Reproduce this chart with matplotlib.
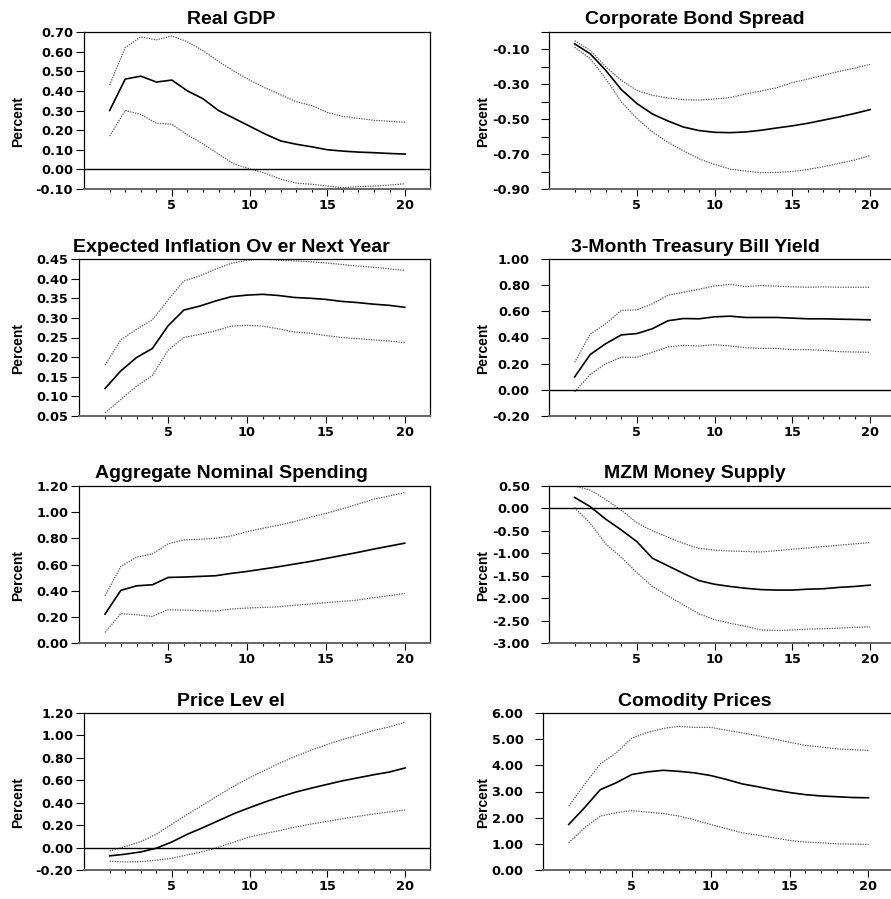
import matplotlib.pyplot as plt

plt.rcParams['font.family'] = 'DejaVu Sans'
plt.rcParams['font.weight'] = 'bold'
plt.rcParams['font.size'] = 9.3

# impulse responses, 20 quarters: lower band, point estimate, upper band
horizon = [1, 2, 3, 4, 5, 6, 7, 8, 9, 10, 11, 12, 13, 14, 15, 16, 17, 18, 19, 20]

gdp_lo = [0.17, 0.30, 0.28, 0.235, 0.23, 0.175, 0.13, 0.078, 0.027, 0.003,
          -0.02, -0.05, -0.07, -0.076, -0.085, -0.093, -0.088, -0.085, -0.08, -0.073]
gdp_mid = [0.30, 0.46, 0.475, 0.445, 0.455, 0.40, 0.36, 0.30, 0.26, 0.22,
           0.18, 0.145, 0.128, 0.115, 0.10, 0.093, 0.088, 0.085, 0.081, 0.078]
gdp_hi = [0.43, 0.62, 0.675, 0.66, 0.68, 0.65, 0.605, 0.55, 0.50, 0.455,
          0.415, 0.38, 0.345, 0.325, 0.29, 0.27, 0.26, 0.25, 0.245, 0.24]

bond_lo = [-0.087, -0.153, -0.268, -0.40, -0.496, -0.572, -0.633, -0.681, -0.727, -0.759,
           -0.786, -0.797, -0.807, -0.805, -0.80, -0.788, -0.772, -0.753, -0.734, -0.708]
bond_mid = [-0.068, -0.125, -0.22, -0.33, -0.41, -0.47, -0.51, -0.545, -0.565, -0.575,
            -0.577, -0.573, -0.563, -0.55, -0.538, -0.523, -0.505, -0.487, -0.467, -0.445]
bond_hi = [-0.05, -0.105, -0.20, -0.277, -0.335, -0.363, -0.378, -0.388, -0.39, -0.384,
           -0.376, -0.355, -0.338, -0.32, -0.29, -0.27, -0.248, -0.226, -0.207, -0.186]

infl_lo = [0.058, 0.092, 0.126, 0.153, 0.218, 0.25, 0.258, 0.267, 0.279, 0.281,
           0.279, 0.272, 0.264, 0.261, 0.255, 0.25, 0.247, 0.244, 0.241, 0.237]
infl_mid = [0.12, 0.165, 0.199, 0.222, 0.28, 0.32, 0.33, 0.343, 0.354, 0.358,
            0.36, 0.357, 0.352, 0.35, 0.347, 0.342, 0.339, 0.335, 0.332, 0.327]
infl_hi = [0.18, 0.244, 0.271, 0.295, 0.346, 0.394, 0.407, 0.424, 0.439, 0.447,
           0.45, 0.447, 0.445, 0.443, 0.44, 0.436, 0.432, 0.429, 0.425, 0.421]

tbill_lo = [-0.015, 0.117, 0.20, 0.249, 0.249, 0.287, 0.327, 0.34, 0.335, 0.345,
            0.335, 0.322, 0.317, 0.317, 0.307, 0.307, 0.302, 0.292, 0.289, 0.287]
tbill_mid = [0.099, 0.27, 0.353, 0.42, 0.43, 0.467, 0.528, 0.545, 0.543, 0.558,
             0.563, 0.553, 0.553, 0.553, 0.548, 0.543, 0.543, 0.54, 0.538, 0.535]
tbill_hi = [0.21, 0.426, 0.505, 0.607, 0.612, 0.657, 0.723, 0.746, 0.769, 0.794,
            0.807, 0.789, 0.797, 0.792, 0.787, 0.784, 0.787, 0.784, 0.784, 0.784]

spend_lo = [0.081, 0.224, 0.216, 0.203, 0.254, 0.252, 0.247, 0.244, 0.26, 0.267,
            0.272, 0.277, 0.288, 0.298, 0.308, 0.318, 0.328, 0.346, 0.361, 0.379]
spend_mid = [0.221, 0.402, 0.437, 0.445, 0.501, 0.504, 0.509, 0.514, 0.532, 0.547,
             0.565, 0.583, 0.603, 0.623, 0.646, 0.669, 0.692, 0.717, 0.74, 0.763]
spend_hi = [0.361, 0.585, 0.656, 0.681, 0.758, 0.788, 0.793, 0.80, 0.818, 0.851,
            0.877, 0.90, 0.928, 0.961, 0.991, 1.024, 1.06, 1.098, 1.123, 1.149]

mzm_lo = [0.015, -0.33, -0.79, -1.09, -1.43, -1.74, -1.95, -2.15, -2.35, -2.48,
          -2.56, -2.63, -2.71, -2.72, -2.71, -2.69, -2.68, -2.67, -2.65, -2.64]
mzm_mid = [0.245, 0.04, -0.24, -0.48, -0.74, -1.11, -1.28, -1.45, -1.61, -1.69,
           -1.74, -1.78, -1.81, -1.82, -1.82, -1.80, -1.79, -1.76, -1.74, -1.71]
mzm_hi = [0.50, 0.41, 0.20, -0.04, -0.32, -0.50, -0.64, -0.78, -0.89, -0.93,
          -0.95, -0.96, -0.97, -0.94, -0.91, -0.88, -0.85, -0.82, -0.79, -0.76]

price_lo = [-0.122, -0.128, -0.125, -0.113, -0.095, -0.065, -0.036, 0.003, 0.05, 0.095,
            0.125, 0.154, 0.184, 0.211, 0.234, 0.258, 0.279, 0.30, 0.318, 0.335]
price_mid = [-0.074, -0.059, -0.039, -0.006, 0.05, 0.119, 0.178, 0.24, 0.303, 0.356,
             0.407, 0.454, 0.496, 0.531, 0.564, 0.596, 0.623, 0.65, 0.674, 0.71]
price_hi = [-0.03, 0.009, 0.053, 0.119, 0.208, 0.297, 0.38, 0.466, 0.549, 0.623,
            0.691, 0.757, 0.816, 0.872, 0.92, 0.964, 1.003, 1.045, 1.077, 1.117]

comm_lo = [1.04, 1.61, 2.06, 2.19, 2.27, 2.21, 2.16, 2.06, 1.91, 1.74,
           1.58, 1.42, 1.33, 1.23, 1.13, 1.07, 1.04, 1.00, 0.99, 0.98]
comm_mid = [1.74, 2.38, 3.07, 3.33, 3.65, 3.75, 3.81, 3.77, 3.71, 3.61,
            3.46, 3.29, 3.18, 3.06, 2.96, 2.88, 2.83, 2.80, 2.77, 2.76]
comm_hi = [2.44, 3.27, 4.05, 4.47, 5.04, 5.26, 5.41, 5.49, 5.45, 5.45,
           5.34, 5.24, 5.13, 5.01, 4.88, 4.76, 4.70, 4.63, 4.60, 4.57]

# y ticks and their labels (blank = tick without label)
gdp_ticks = [-0.1, 0.0, 0.1, 0.2, 0.3, 0.4, 0.5, 0.6, 0.7]
bond_ticks = [-0.9, -0.8, -0.7, -0.6, -0.5, -0.4, -0.3, -0.2, -0.1, 0.0]
bond_labels = ['-0.90', '', '-0.70', '', '-0.50', '', '-0.30', '', '-0.10', '']
infl_ticks = [0.05, 0.10, 0.15, 0.20, 0.25, 0.30, 0.35, 0.40, 0.45]
tbill_ticks = [-0.2, 0.0, 0.2, 0.4, 0.6, 0.8, 1.0]
spend_ticks = [0.0, 0.2, 0.4, 0.6, 0.8, 1.0, 1.2]
mzm_ticks = [-3.0, -2.5, -2.0, -1.5, -1.0, -0.5, 0.0, 0.5]
price_ticks = [-0.2, 0.0, 0.2, 0.4, 0.6, 0.8, 1.0, 1.2]
comm_ticks = [0.0, 1.0, 2.0, 3.0, 4.0, 5.0, 6.0]

W, H = 891, 899

fig = plt.figure(figsize=(8.91, 8.99), dpi=100)


def panel(left, top, width, title, lo, mid, hi, ticks, labels=None,
          zero=False, right_col=False):
    height = 157
    title_x = 695 if right_col else 231
    label_x = 483 if right_col else 18
    pad = 8 if right_col else 2
    ax = fig.add_axes([left / W, 1 - (top + height) / H, width / W, height / H])
    ax.plot(horizon, hi, color='#555555', lw=0.9, ls=(0, (1, 1)))
    ax.plot(horizon, lo, color='#555555', lw=0.9, ls=(0, (1, 1)))
    ax.plot(horizon, mid, color='black', lw=1.2)
    if zero:
        ax.axhline(0, color='black', lw=1.0)
    ax.set_xlim(-0.65, 21.6)
    ax.set_ylim(ticks[0], ticks[-1])
    ax.set_yticks(ticks)
    if labels is None:
        labels = ['%.2f' % t for t in ticks]
    ax.set_yticklabels(labels)
    ax.set_xticks([5, 10, 15, 20])
    ax.set_xticks([h for h in horizon if h % 5 != 0], minor=True)
    ax.tick_params(axis='y', direction='out', length=5.8, width=0.8, pad=pad)
    ax.tick_params(axis='x', which='major', direction='out', length=5, width=0.8, pad=2.5)
    ax.tick_params(axis='x', which='minor', direction='out', length=2.4, width=0.8)
    for s in ['left', 'top', 'right']:
        ax.spines[s].set_linewidth(0.9)
    ax.spines['bottom'].set_color('#666666')
    ax.spines['bottom'].set_linewidth(1.4)
    ax.set_ylabel('Percent', family='Liberation Sans', fontweight='bold',
                  fontsize=10, va='center')
    ax.yaxis.set_label_coords((label_x - left) / width, 0.43)
    fig.text(title_x / W, 1 - (top - 7.5) / H, title, ha='center', va='baseline',
             family='Liberation Sans', fontweight='bold', fontsize=14)
    return ax


panel(84, 32, 346, 'Real GDP', gdp_lo, gdp_mid, gdp_hi, gdp_ticks, zero=True)
panel(549, 32, 346, 'Corporate Bond Spread', bond_lo, bond_mid, bond_hi,
      bond_ticks, bond_labels, right_col=True)
panel(79, 259, 351, 'Expected Inflation Ov er Next Year', infl_lo, infl_mid, infl_hi,
      infl_ticks)
panel(549, 259, 346, '3-Month Treasury Bill Yield', tbill_lo, tbill_mid, tbill_hi,
      tbill_ticks, zero=True, right_col=True)
panel(79, 486, 351, 'Aggregate Nominal Spending', spend_lo, spend_mid, spend_hi,
      spend_ticks)
panel(549, 486, 346, 'MZM Money Supply', mzm_lo, mzm_mid, mzm_hi,
      mzm_ticks, zero=True, right_col=True)
panel(84, 713, 346, 'Price Lev el', price_lo, price_mid, price_hi, price_ticks, zero=True)
panel(542.7, 713, 351, 'Comodity Prices', comm_lo, comm_mid, comm_hi,
      comm_ticks, right_col=True)

fig.savefig('out.png', dpi=100)
